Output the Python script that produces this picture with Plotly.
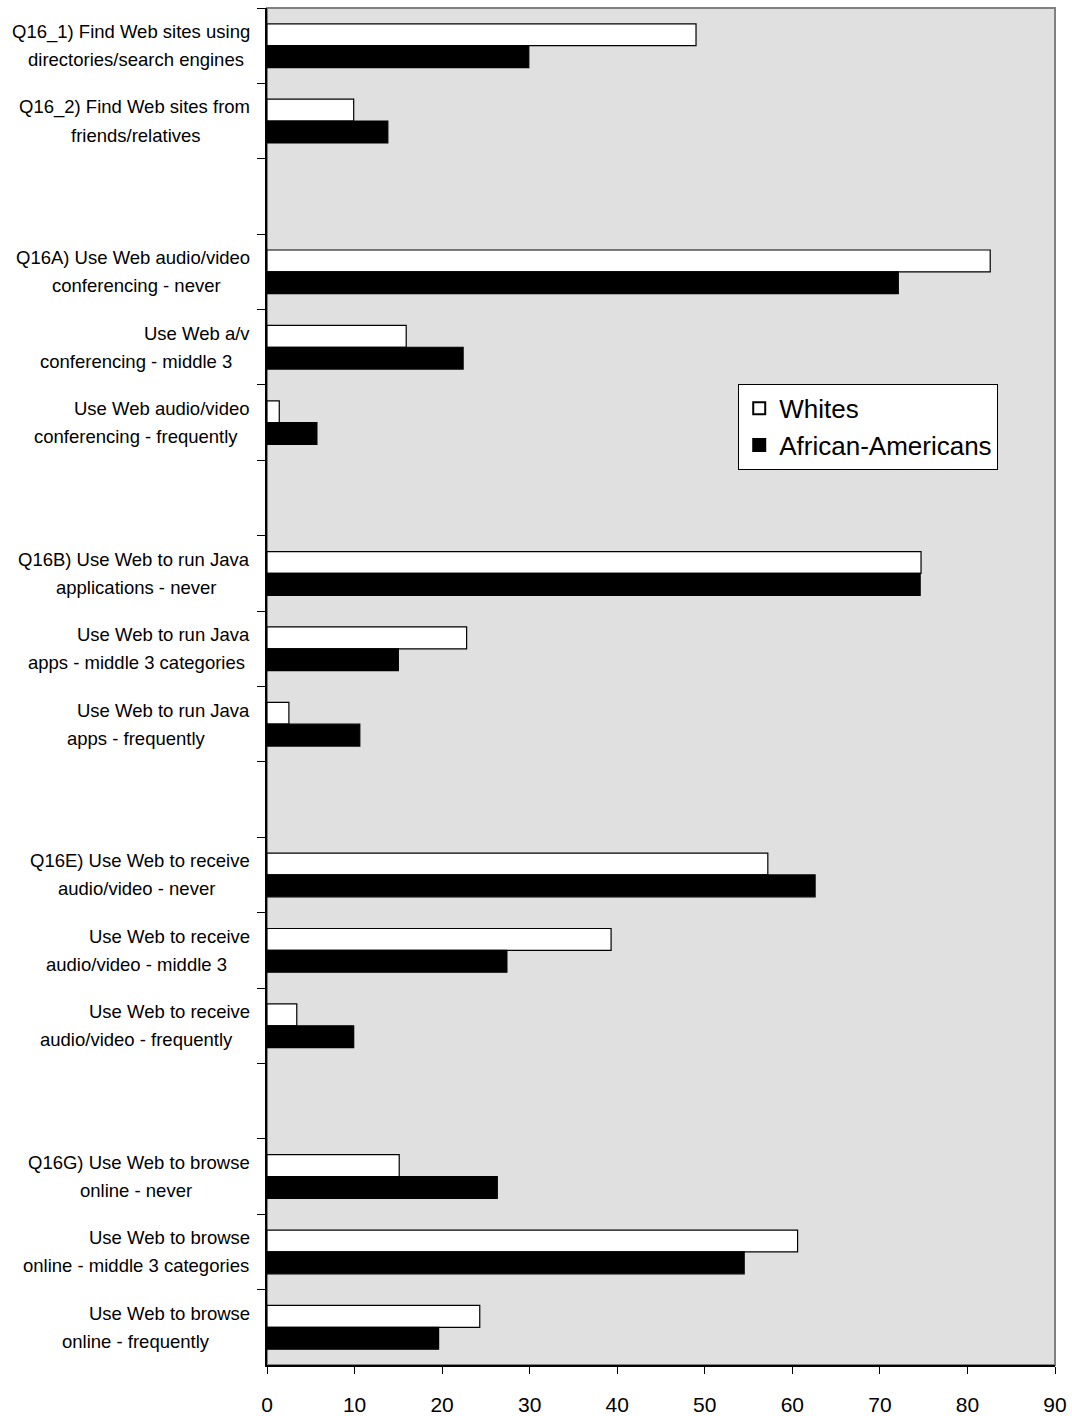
import plotly.graph_objects as go

# ---- data ----
line1 = [
    "Q16_1) Find Web sites using", "Q16_2) Find Web sites from", "",
    "Q16A) Use Web audio/video", "Use Web a/v", "Use Web audio/video", "",
    "Q16B) Use Web to run Java", "Use Web to run Java", "Use Web to run Java", "",
    "Q16E) Use Web to receive", "Use Web to receive", "Use Web to receive", "",
    "Q16G) Use Web to browse", "Use Web to browse", "Use Web to browse",
]
line2 = [
    "directories/search engines", "friends/relatives", "",
    "conferencing - never", "conferencing - middle 3", "conferencing - frequently", "",
    "applications - never", "apps - middle 3 categories", "apps - frequently", "",
    "audio/video - never", "audio/video - middle 3", "audio/video - frequently", "",
    "online - never", "online - middle 3 categories", "online - frequently",
]
whites = [49.0, 9.9, None, 82.6, 15.9, 1.4, None, 74.7, 22.8, 2.5, None,
          57.2, 39.3, 3.4, None, 15.1, 60.6, 24.3]
african_americans = [29.9, 13.8, None, 72.1, 22.4, 5.7, None, 74.6, 15.0, 10.6, None,
                     62.6, 27.4, 9.9, None, 26.3, 54.5, 19.6]
x_ticks = [0, 10, 20, 30, 40, 50, 60, 70, 80, 90]

# unique category keys (gaps get distinct blank keys)
cats = []
gap_n = 0
for a, b in zip(line1, line2):
    if a or b:
        cats.append(a + " " + b)
    else:
        gap_n += 1
        cats.append(" " * gap_n)

fig = go.Figure()
fig.add_trace(go.Bar(y=cats, x=whites, orientation="h", name="Whites",
                     marker=dict(color="white", line=dict(color="black", width=1.2))))
fig.add_trace(go.Bar(y=cats, x=african_americans, orientation="h", name="African-Americans",
                     marker=dict(color="black", line=dict(color="black", width=1.2))))

label_font = dict(family="Liberation Sans Narrow, Arial Narrow, Liberation Sans, Arial",
                  size=18.5, color="black")
annotations = []
for c, a, b in zip(cats, line1, line2):
    if not (a or b):
        continue
    annotations.append(dict(xref="paper", yref="y", x=0, y=c, text=a, showarrow=False,
                            xanchor="right", yanchor="middle", xshift=-15, yshift=14,
                            font=label_font))
    annotations.append(dict(xref="paper", yref="y", x=0, y=c, text=b, showarrow=False,
                            xanchor="center", yanchor="middle", xshift=-131, yshift=-14,
                            font=label_font))

n = len(cats)
fig.update_layout(
    width=1072, height=1416,
    margin=dict(l=267, r=17, t=8, b=51),
    paper_bgcolor="white", plot_bgcolor="#e0e0e0",
    barmode="group", bargap=0.42, bargroupgap=0,
    showlegend=True,
    legend=dict(x=0.598, y=0.723, xanchor="left", yanchor="top",
                bgcolor="white", bordercolor="black", borderwidth=1,
                font=dict(family="Liberation Sans, Arial", size=26, color="black"),
                tracegroupgap=0, itemsizing="constant"),
    xaxis=dict(range=[0, 90], tickvals=x_ticks, showgrid=False, zeroline=False,
               showline=True, linecolor="black", linewidth=1.5,
               ticks="outside", ticklen=7, tickcolor="black", tickwidth=1,
               ticklabelstandoff=13, automargin=False,
               tickfont=dict(family="Liberation Sans, Arial", size=21, color="black")),
    xaxis2=dict(range=[0, 90], tickvals=x_ticks, overlaying="x", anchor="y",
                side="bottom", showgrid=False, zeroline=False, showline=False,
                ticks="inside", ticklen=7, tickcolor="black", tickwidth=1,
                showticklabels=False, automargin=False),
    yaxis=dict(type="category", categoryorder="array", categoryarray=cats,
               range=[n - 0.5, -0.5], showgrid=False, zeroline=False,
               showline=True, linecolor="black", linewidth=1.5,
               ticks="outside", ticklen=8, tickcolor="black", tickwidth=1,
               tickson="boundaries", showticklabels=False, automargin=False),
    yaxis2=dict(range=[n - 0.5, -0.5], overlaying="y", anchor="x", side="left",
                tickvals=[i - 0.5 for i in range(n + 1)],
                showgrid=False, zeroline=False, showline=False,
                ticks="inside", ticklen=8, tickcolor="black", tickwidth=1,
                showticklabels=False, automargin=False),
    annotations=annotations,
    shapes=[dict(type="rect", xref="paper", yref="paper", x0=0, x1=1, y0=0, y1=1,
                 line=dict(color="#808080", width=2), layer="below")],
)

fig.write_html("out.html")
